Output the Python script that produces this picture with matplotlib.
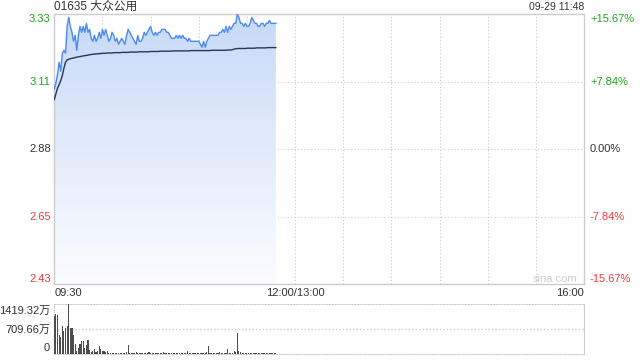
import matplotlib
matplotlib.use("Agg")
import matplotlib.pyplot as plt
import numpy as np
from matplotlib.colors import LinearSegmentedColormap

plt.rcParams['font.family'] = ['Liberation Sans', 'Noto Sans CJK SC', 'DejaVu Sans']

# ---- data (one value per minute from 09:30 to 11:48) ----
title = "01635 大众公用"
stamp = "09-29 11:48"
prev_close = 2.88
max_pct = 15.67

price = [
    3.08, 3.10, 3.13, 3.17, 3.14, 3.20, 3.21, 3.20, 3.29, 3.32,
    3.29, 3.27, 3.24, 3.26, 3.21, 3.26, 3.29, 3.27, 3.29, 3.27,
    3.30, 3.27, 3.28, 3.25, 3.24, 3.26, 3.24, 3.25, 3.27, 3.25,
    3.28, 3.26, 3.28, 3.26, 3.24, 3.25, 3.27, 3.26, 3.24, 3.25,
    3.23, 3.24, 3.25, 3.24, 3.23, 3.26, 3.28, 3.27, 3.26, 3.25,
    3.24, 3.23, 3.26, 3.24, 3.24, 3.25, 3.27, 3.26, 3.27, 3.28,
    3.29, 3.27, 3.26, 3.27, 3.26, 3.27, 3.27, 3.28, 3.28, 3.28,
    3.27, 3.27, 3.26, 3.25, 3.25, 3.25, 3.26, 3.25, 3.26, 3.25,
    3.26, 3.25, 3.25, 3.24, 3.25, 3.24, 3.24, 3.24, 3.24, 3.24,
    3.24, 3.23, 3.22, 3.24, 3.22, 3.24, 3.25, 3.26, 3.26, 3.26,
    3.26, 3.26, 3.26, 3.27, 3.27, 3.28, 3.27, 3.29, 3.27, 3.29,
    3.28, 3.29, 3.30, 3.30, 3.33, 3.32, 3.30, 3.30, 3.29, 3.30,
    3.29, 3.29, 3.30, 3.32, 3.31, 3.30, 3.30, 3.29, 3.29, 3.30,
    3.30, 3.29, 3.30, 3.30, 3.31, 3.30, 3.30, 3.30, 3.30,
]

avg_price = [
    3.045, 3.065, 3.083, 3.095, 3.108, 3.125, 3.150, 3.170, 3.178, 3.180,
    3.182, 3.183, 3.184, 3.186, 3.187, 3.188, 3.189, 3.190, 3.191, 3.192,
    3.193, 3.194, 3.195, 3.196, 3.197, 3.197, 3.198, 3.198, 3.199, 3.199,
    3.200, 3.200, 3.200, 3.201, 3.201, 3.201, 3.201, 3.202, 3.202, 3.202,
    3.202, 3.202, 3.203, 3.203, 3.203, 3.203, 3.203, 3.204, 3.204, 3.204,
    3.204, 3.204, 3.204, 3.205, 3.205, 3.205, 3.205, 3.205, 3.205, 3.205,
    3.206, 3.206, 3.206, 3.206, 3.206, 3.206, 3.207, 3.207, 3.207, 3.207,
    3.207, 3.207, 3.207, 3.207, 3.208, 3.208, 3.208, 3.208, 3.208, 3.208,
    3.208, 3.208, 3.208, 3.208, 3.208, 3.209, 3.209, 3.209, 3.209, 3.209,
    3.209, 3.209, 3.209, 3.209, 3.209, 3.209, 3.209, 3.209, 3.210, 3.210,
    3.210, 3.210, 3.210, 3.210, 3.210, 3.210, 3.210, 3.210, 3.211, 3.211,
    3.211, 3.212, 3.214, 3.215, 3.216, 3.216, 3.216, 3.216, 3.216, 3.216,
    3.217, 3.217, 3.217, 3.217, 3.217, 3.217, 3.218, 3.218, 3.218, 3.218,
    3.218, 3.218, 3.218, 3.219, 3.219, 3.219, 3.219, 3.219, 3.219,
]

# volume in 万
volume = [
    1090, 1150, 1120, 560, 500, 800, 660, 755, 800, 1419,
    760, 760, 540, 283, 95, 168, 283, 390, 390, 180,
    250, 400, 130, 60, 100, 150, 60, 80, 230, 140,
    100, 100, 60, 80, 50, 50, 30, 40, 40, 50,
    30, 30, 30, 30, 30, 60, 250, 40, 35, 45,
    40, 55, 30, 40, 35, 50, 40, 30, 45, 60,
    35, 40, 30, 50, 35, 40, 45, 30, 60, 35,
    40, 30, 45, 35, 50, 40, 30, 45, 35, 40,
    30, 50, 40, 95, 35, 40, 30, 45, 40, 35,
    50, 40, 45, 35, 40, 60, 240, 40, 35, 45,
    50, 40, 35, 60, 45, 40, 50, 40, 150, 45,
    40, 50, 80, 60, 595, 90, 60, 50, 40, 45,
    35, 50, 40, 45, 35, 40, 30, 45, 35, 40,
    30, 35, 40, 45, 35, 40, 30, 35, 40,
]
vol_max = 1419.32

left_labels = ["2.43", "2.65", "2.88", "3.11", "3.33"]
right_labels = ["-15.67%", "-7.84%", "0.00%", "+7.84%", "+15.67%"]
vol_labels = ["1419.32万", "709.66万", "0"]
time_labels = ["09:30", "12:00/13:00", "16:00"]
total_minutes = 330

GREEN = "#1ea51e"
RED = "#f03a3a"
GRAY_TXT = "#333333"
GRID = "#cccccc"

minutes = np.arange(len(price))
ylo = prev_close * (1 - max_pct / 100)
yhi = prev_close * (1 + max_pct / 100)

fig = plt.figure(figsize=(6.4, 3.6), dpi=100)
ax = fig.add_axes([54.3 / 640, 1 - 284 / 360, (584 - 54.3) / 640, 270 / 360])
axv = fig.add_axes([54.3 / 640, 1 - 354.3 / 360, (584 - 54.3) / 640, 50 / 360])

# ---- price panel ----
ax.set_xlim(0, total_minutes)
ax.set_ylim(ylo, yhi)
for m in range(30, total_minutes, 30):
    ax.axvline(m, color=GRID, lw=0.8, ls=(0, (1, 2)), zorder=1)
levels = np.linspace(ylo, yhi, 5)
for lv in levels[1:-1]:
    ax.axhline(lv, color=GRID, lw=0.8, ls=(0, (1, 2)), zorder=1)

cmap = LinearSegmentedColormap.from_list("fade", ["#fbfcff", "#e3ecfb", "#c6d9f7"])
grad = np.linspace(0, 1, 256).reshape(-1, 1)
img = ax.imshow(grad, cmap=cmap, origin="lower", aspect="auto",
                extent=[0, minutes[-1], ylo, yhi], zorder=2)
poly = ax.fill_between(minutes, price, ylo, color="none", lw=0)
img.set_clip_path(poly.get_paths()[0], transform=ax.transData)

ax.plot(minutes, price, color="#4a8bf0", lw=1.0, zorder=4)
ax.plot(minutes, avg_price, color="#2b3550", lw=1.0, zorder=4)

for s in ax.spines.values():
    s.set_color(GRID)
    s.set_linewidth(1.0)
ax.set_xticks([])
ax.set_yticks([])

# left / right labels
cols = [RED, RED, GRAY_TXT, GREEN, GREEN]
vas = ["bottom", "center", "center", "center", "top"]
for lv, lt, rt, c, va in zip(levels, left_labels, right_labels, cols, vas):
    ax.text(-3.5 / 530 * total_minutes, lv, lt, color=c, fontsize=8,
            ha="right", va=va)
    ax.text(total_minutes + 6 / 530 * total_minutes, lv, rt, color=c,
            fontsize=8, ha="left", va=va)

# time labels
fig.text(55 / 640, 1 - 293 / 360, time_labels[0], fontsize=8, color=GRAY_TXT,
         ha="left", va="center")
fig.text(295 / 640, 1 - 293 / 360, time_labels[1], fontsize=8, color=GRAY_TXT,
         ha="center", va="center")
fig.text(584 / 640, 1 - 293 / 360, time_labels[2], fontsize=8, color=GRAY_TXT,
         ha="right", va="center")

fig.text(54.5 / 640, 1 - 7 / 360, title, fontsize=8.5, color=GRAY_TXT,
         ha="left", va="center")
fig.text(584 / 640, 1 - 7 / 360, stamp, fontsize=7.5, color=GRAY_TXT,
         ha="right", va="center")
fig.text(577 / 640, 1 - 279 / 360, "sina.com", fontsize=8, color="#cfcfcf",
         ha="right", va="center")

# ---- volume panel ----
axv.set_xlim(0, total_minutes)
axv.set_ylim(0, vol_max)
axv.bar(minutes, volume, width=0.7, color="#4d4d4d", zorder=3)
axv.axhline(vol_max / 2, color=GRID, lw=1.0, ls=(0, (1, 1.5)), zorder=1)
for name in ["top", "bottom", "left"]:
    axv.spines[name].set_color(GRID)
    axv.spines[name].set_linestyle((0, (1, 1.5)))
axv.spines["right"].set_color(GRID)
axv.set_xticks([])
axv.set_yticks([])
for lab, yy in zip(vol_labels, [311, 330, 348]):
    fig.text(50 / 640, 1 - yy / 360, lab, fontsize=8, color=GRAY_TXT,
             ha="right", va="center")

fig.savefig("out.png", dpi=100)
